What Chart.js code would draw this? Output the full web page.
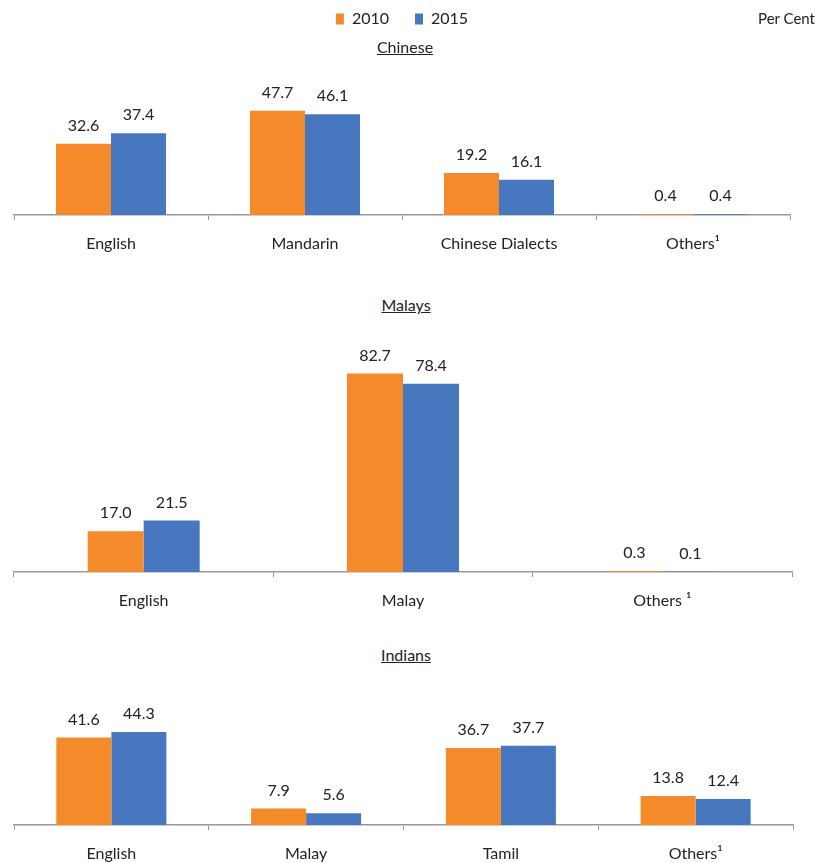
<!DOCTYPE html>
<html><head><meta charset="utf-8">
<script src="https://cdn.jsdelivr.net/npm/chart.js@4.4.1/dist/chart.umd.min.js"></script>
<style>
html,body{margin:0;padding:0;background:#fff;width:817px;height:863px;overflow:hidden;font-family:Lato,sans-serif;color:#222}
.c{position:absolute;left:0;width:817px}
.t{position:absolute;font-size:16px;text-decoration:underline;transform:translateX(-50%);white-space:nowrap}
#pc{position:absolute;right:2px;top:9px;font-size:15px}
</style></head><body>
<div class="c" style="top:-15px;height:270px"><canvas id="c1"></canvas></div>
<div class="c" style="top:320px;height:292px"><canvas id="c2"></canvas></div>
<div class="c" style="top:670px;height:193px"><canvas id="c3"></canvas></div>
<div id="pc">Per Cent</div>
<div class="t" style="left:405px;top:37px">Chinese</div>
<div class="t" style="left:406px;top:295px">Malays</div>
<div class="t" style="left:406px;top:645px">Indians</div>
<script>
const seriesNames = ['2010', '2015'];
const chineseCats = ['English', 'Mandarin', 'Chinese Dialects', 'Others¹'];
const chinese2010 = [32.6, 47.7, 19.2, 0.4];
const chinese2015 = [37.4, 46.1, 16.1, 0.4];
const malaysCats = ['English', 'Malay', 'Others ¹'];
const malays2010 = [17.0, 82.7, 0.3];
const malays2015 = [21.5, 78.4, 0.1];
const indiansCats = ['English', 'Malay', 'Tamil', 'Others¹'];
const indians2010 = [41.6, 7.9, 36.7, 13.8];
const indians2015 = [44.3, 5.6, 37.7, 12.4];

const ORANGE = '#F58A2A', BLUE = '#4677BF';
Chart.defaults.font.family = 'Lato, sans-serif';
Chart.defaults.color = '#222';
Chart.defaults.animation = false;

const valueLabels = {
  id: 'valueLabels',
  afterDatasetsDraw(chart) {
    const ctx = chart.ctx;
    ctx.save();
    ctx.font = '16px Lato, sans-serif';
    ctx.fillStyle = '#222';
    ctx.textAlign = 'center';
    ctx.textBaseline = 'bottom';
    chart.data.datasets.forEach((ds, i) => {
      chart.getDatasetMeta(i).data.forEach((el, j) => {
        ctx.fillText(ds.data[j].toFixed(1), el.x, el.y - 10);
      });
    });
    ctx.restore();
  }
};

function make(id, cats, a, b, yMax, pad, catPct, legend, xh) {
  return new Chart(document.getElementById(id), {
    type: 'bar',
    data: {
      labels: cats,
      datasets: [
        {label: seriesNames[0], data: a, backgroundColor: ORANGE, categoryPercentage: catPct, barPercentage: 1},
        {label: seriesNames[1], data: b, backgroundColor: BLUE, categoryPercentage: catPct, barPercentage: 1}
      ]
    },
    options: {
      responsive: true, maintainAspectRatio: false,
      layout: {padding: pad},
      plugins: {
        legend: {display: legend, position: 'top',
          labels: {boxWidth: 8, boxHeight: 11, padding: 26, font: {size: 16}, color: '#222'}},
        tooltip: {enabled: false}
      },
      scales: {
        x: {
          grid: {display: true, offset: true, drawOnChartArea: false, drawTicks: true, tickLength: 5, color: '#999', lineWidth: 1},
          border: {display: true, color: '#999', width: 1.5},
          ticks: {font: {size: 16}, color: '#222', padding: 14, maxRotation: 0},
          afterFit(s) { s.height = xh; }
        },
        y: {display: false, min: 0, max: yMax}
      }
    },
    plugins: [valueLabels]
  });
}
make('c1', chineseCats, chinese2010, chinese2015, 81.5, {top: 0, left: 14, right: 27, bottom: 0}, 0.567, true, 40);
make('c2', malaysCats, malays2010, malays2015, 100.8, {top: 10, left: 14, right: 25, bottom: 0}, 0.432, false, 40);
make('c3', indiansCats, indians2010, indians2015, 69, {top: 10, left: 14, right: 24, bottom: 0}, 0.565, false, 38);
</script>
</body></html>
